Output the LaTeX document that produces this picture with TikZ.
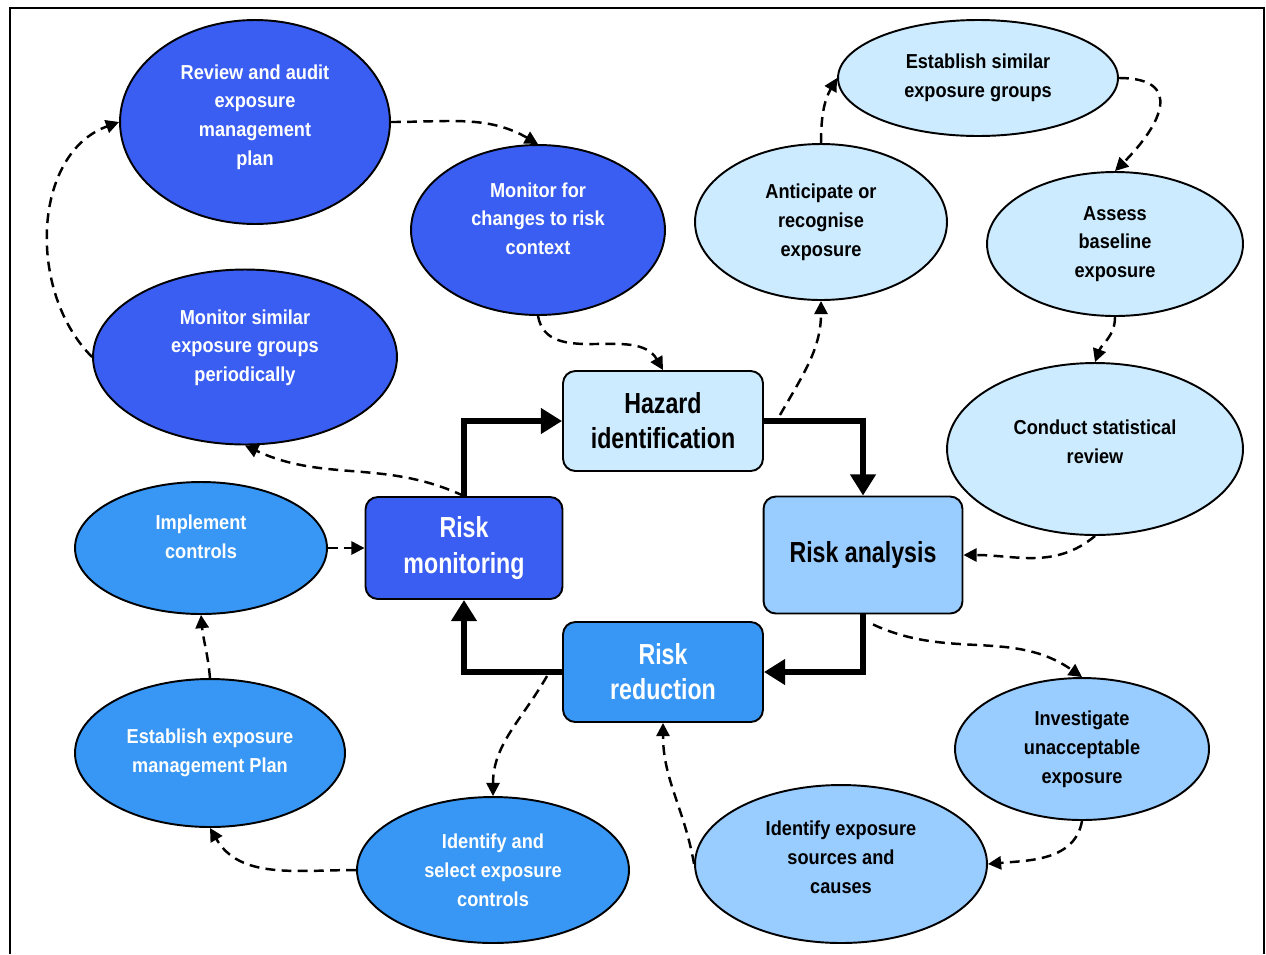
\documentclass[tikz,border=0pt]{standalone}
\usepackage{fontspec}
\setmainfont{Liberation Sans}[FakeStretch=0.9]
\newfontfamily\boxfont{Liberation Sans}[FakeStretch=0.8]
\usetikzlibrary{arrows.meta,shapes.geometric,calc}

\definecolor{darkblue}{HTML}{3A5EF2}
\definecolor{midblue}{HTML}{3897F5}
\definecolor{lightblue}{HTML}{99CCFF}
\definecolor{paleblue}{HTML}{CCEBFF}

\tikzset{
  bubble/.style={ellipse, draw, line width=1.1pt, inner sep=0pt, align=center,
    font=\bfseries\fontsize{11.5}{16.4}\selectfont},
  stagebox/.style={rectangle, rounded corners=7pt, draw, line width=1.1pt, inner sep=0pt,
    align=center, font=\boxfont\bfseries\fontsize{16.5}{20}\selectfont},
  dark/.style={fill=darkblue, text=white},
  mid/.style={fill=midblue, text=white},
  light/.style={fill=lightblue, text=black},
  pale/.style={fill=paleblue, text=black},
  raised/.style={text depth=13pt},
  lifted/.style={text depth=8pt},
  flow/.style={line width=3.4pt, -{Triangle[length=12pt,width=14pt]}},
  link/.style={line width=1.4pt, dash pattern=on 5.6pt off 3.6pt, -{Triangle[length=7.5pt,width=7.5pt]}},
}

\begin{document}
\begin{tikzpicture}[x=0.02cm, y=0.02cm]
        \useasboundingbox (0,0) rectangle (1266,-954);
        % frame
        \draw[line width=1.2pt] (10,-954) -- (10,-8) -- (1264,-8) -- (1264,-954);
        % the four stages
        \node[stagebox, pale,  minimum width=4cm,    minimum height=2cm]    (hazard)    at (663,-421) {Hazard\\identification};
        \node[stagebox, light, minimum width=3.98cm, minimum height=2.34cm] (analysis)  at (863,-555) {Risk analysis};
        \node[stagebox, mid,   minimum width=4cm,    minimum height=2cm]    (reduction) at (663,-672) {Risk\\reduction};
        \node[stagebox, dark,  minimum width=3.94cm, minimum height=2.04cm] (riskmon)   at (464,-548) {Risk\\monitoring};
        % the steps round them
        \node[bubble, dark, lifted, minimum width=5.4cm,  minimum height=4.08cm] (review)    at (255,-122)  {Review and audit\\exposure\\management\\plan};
        \node[bubble, dark, raised, minimum width=5.08cm, minimum height=3.4cm]  (monchange) at (538,-230)  {Monitor for\\changes to risk\\context};
        \node[bubble, dark, raised, minimum width=6.08cm, minimum height=3.5cm]  (monsim)    at (245,-357)  {Monitor similar\\exposure groups\\periodically};
        \node[bubble, mid,  raised, minimum width=5.04cm, minimum height=2.64cm] (implement) at (201,-548)  {Implement\\controls};
        \node[bubble, mid,          minimum width=5.4cm,  minimum height=2.96cm] (estplan)   at (210,-753)  {Establish exposure\\management Plan};
        \node[bubble, mid,          minimum width=5.44cm, minimum height=2.92cm] (idsel)     at (493,-870)  {Identify and\\select exposure\\controls};
        \node[bubble, light, lifted, minimum width=5.84cm, minimum height=3.16cm] (idsrc)    at (841,-864)  {Identify exposure\\sources and\\causes};
        \node[bubble, light,        minimum width=5.08cm, minimum height=2.84cm] (invest)    at (1082,-749) {Investigate\\unacceptable\\exposure};
        \node[bubble, pale, lifted, minimum width=5.92cm, minimum height=3.44cm] (conduct)   at (1095,-449) {Conduct statistical\\review};
        \node[bubble, pale,         minimum width=5.12cm, minimum height=2.88cm] (assess)    at (1115,-244) {Assess\\baseline\\exposure};
        \node[bubble, pale,         minimum width=5.6cm,  minimum height=2.32cm] (estsim)    at (978,-78)   {Establish similar\\exposure groups};
        \node[bubble, pale,         minimum width=5.04cm, minimum height=3.12cm] (anticip)   at (821,-222)  {Anticipate or\\recognise\\exposure};
        % main cycle
        \draw[flow] (riskmon)   |- (hazard);
        \draw[flow] (hazard)    -| (analysis);
        \draw[flow] (analysis)  |- (reduction);
        \draw[flow] (reduction) -| (riskmon);
        % dashed links
        \draw[link] (review.east) to[out=0,in=150] (monchange.north);
        \draw[link] (monchange.south) to[out=-80,in=120] (hazard.north);
        \draw[link] ($(hazard.east)+(16,6)$) to[out=60,in=-90] (anticip.south);
        \draw[link] (anticip.north) to[out=90,in=-120] (estsim.west);
        \draw[link] (estsim.east) to[out=0,in=45,looseness=1.8] (assess.north);
        \draw[link] (assess.south) to[out=-90,in=70] (conduct.north);
        \draw[link] (conduct.south) to[out=-140,in=0] (analysis.east);
        \draw[link] ($(analysis.south)+(10,-10)$) to[out=-25,in=145] (invest.north);
        \draw[link] (invest.south) to[out=-100,in=5] (idsrc.east);
        \draw[link] (idsrc.west) to[out=100,in=-90] (reduction.south);
        \draw[link] ($(reduction.west)+(-15,-4)$) to[out=-120,in=90] (idsel.north);
        \draw[link] (idsel.west) to[out=180,in=-60] (estplan.south);
        \draw[link] (estplan.north) to[out=95,in=-85] (implement.south);
        \draw[link] (implement) -- (riskmon);
        \draw[link] (riskmon.north) to[out=155,in=-25] (monsim.south);
        \draw[link] (monsim.west) to[out=135,in=200] (review.west);
\end{tikzpicture}
\end{document}
